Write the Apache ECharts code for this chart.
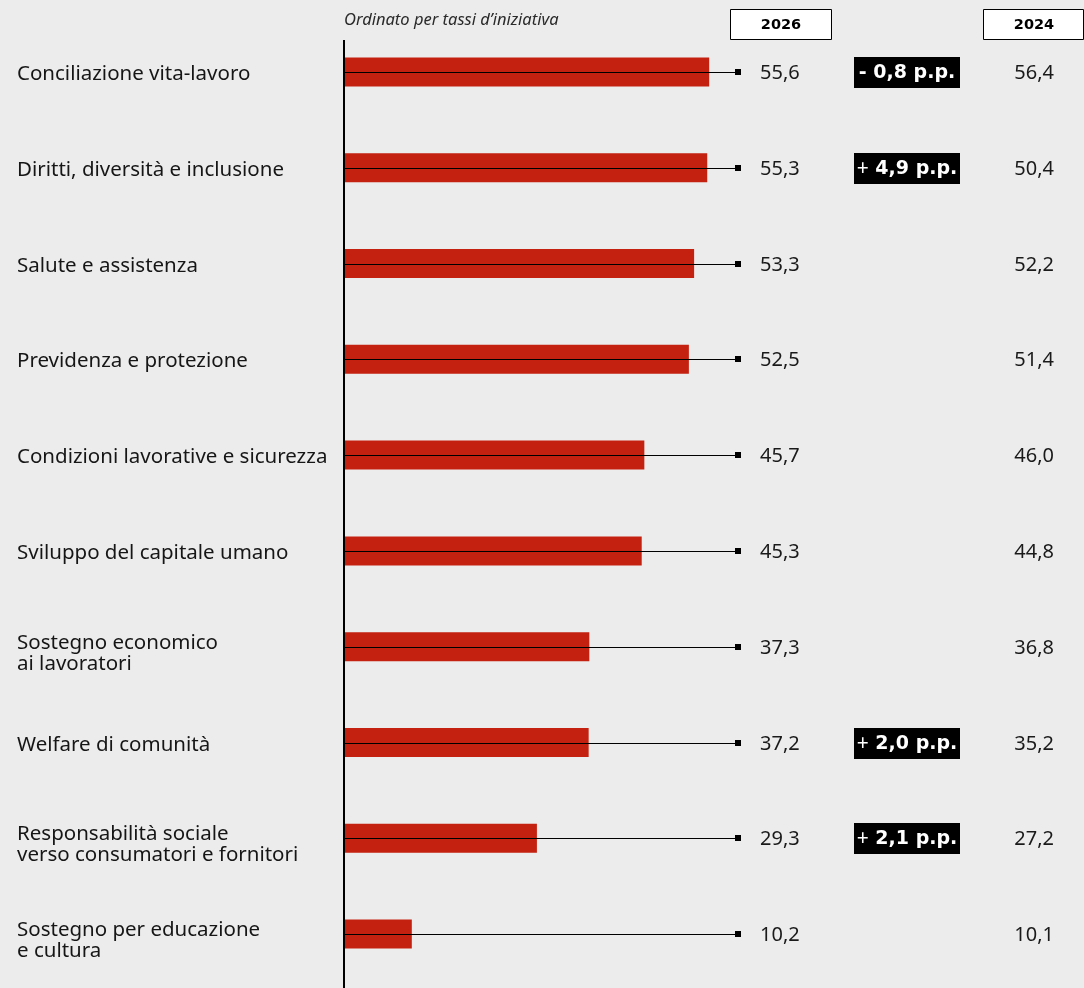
<!DOCTYPE html>
<html lang="it">
<head>
<meta charset="utf-8">
<title>Welfare aziendale – aree d'intervento</title>
<script src="https://cdn.jsdelivr.net/npm/echarts@6/dist/echarts.min.js"></script>
<style>
  html, body { margin: 0; padding: 0; background: #ececec; }
  #chart { width: 1084px; height: 988px; }
</style>
</head>
<body>
<div id="chart"></div>
<script>
// Aree di welfare, ordinate per tasso d'iniziativa
const categories = [
  'Conciliazione vita-lavoro',
  'Diritti, diversità e inclusione',
  'Salute e assistenza',
  'Previdenza e protezione',
  'Condizioni lavorative e sicurezza',
  'Sviluppo del capitale umano',
  'Sostegno economico\nai lavoratori',
  'Welfare di comunità',
  'Responsabilità sociale\nverso consumatori e fornitori',
  'Sostegno per educazione\ne cultura'
];
// Tassi d'iniziativa 2026 (%)
const values2026 = [55.6, 55.3, 53.3, 52.5, 45.7, 45.3, 37.3, 37.2, 29.3, 10.2];
// Tassi d'iniziativa 2024 (%)
const values2024 = [56.4, 50.4, 52.2, 51.4, 46.0, 44.8, 36.8, 35.2, 27.2, 10.1];
// Variazioni evidenziate (punti percentuali)
const deltas = [-0.8, 4.9, null, null, null, null, null, 2.0, 2.1, null];
// Colonne d'intestazione
const headers = ['2026', '2024'];
// Fine della linea guida sull'asse dei valori
const guideEnd = 60;

const FONT = '"Noto Sans", "Liberation Sans", sans-serif';
const WIDE = '"DejaVu Sans", "Noto Sans", sans-serif';
const fmt = v => v.toFixed(1).replace('.', ',');

const chart = echarts.init(document.getElementById('chart'), null, { renderer: 'canvas' });

chart.setOption({
  backgroundColor: '#ececec',
  animation: false,
  grid: { left: 345, right: 346, top: 24, bottom: 6 },
  xAxis: {
    type: 'value', min: 0, max: guideEnd,
    show: false
  },
  yAxis: {
    type: 'category',
    data: categories,
    inverse: true,
    axisLine: { show: false },
    axisTick: { show: false },
    axisLabel: { show: false }
  },
  series: [
    {
      type: 'bar',
      data: values2026,
      barWidth: 29,
      itemStyle: { color: '#c42110' },
      z: 2
    },
    {
      type: 'custom',
      data: values2026.map((v, i) => [guideEnd, i]),
      z: 3,
      clip: false,
      renderItem(params, api) {
        const i = params.dataIndex;
        const start = api.coord([0, i]);
        const end = api.coord([guideEnd, i]);
        const y = Math.round(end[1]) + 0.5;
        const multiLine = categories[i].indexOf('\n') >= 0;
        const children = [
          {
            // category name, left of the axis
            type: 'text',
            style: {
              text: categories[i], x: start[0] - 328, y: y + (multiLine ? 6 : 2),
              align: 'left', verticalAlign: 'middle',
              font: '20.5px ' + FONT, lineHeight: 21, fill: '#161616'
            }
          },
          {
            type: 'line',
            shape: { x1: start[0], y1: y, x2: end[0], y2: y },
            style: { stroke: '#000', lineWidth: 1 }
          },
          {
            type: 'rect',
            shape: { x: end[0] - 3, y: y - 3.5, width: 6, height: 6 },
            style: { fill: '#000' }
          },
          {
            type: 'text',
            style: {
              text: fmt(values2026[i]), x: end[0] + 22, y: y + 1,
              align: 'left', verticalAlign: 'middle',
              font: '20px ' + FONT, fill: '#1a1a1a'
            }
          },
          {
            type: 'text',
            style: {
              text: fmt(values2024[i]), x: end[0] + 316, y: y + 1,
              align: 'right', verticalAlign: 'middle',
              font: '20px ' + FONT, fill: '#1a1a1a'
            }
          }
        ];
        const d = deltas[i];
        if (d !== null) {
          const sign = d < 0 ? '-' : '+';
          children.push({
            type: 'rect',
            shape: { x: end[0] + 116, y: y - 15.5, width: 106, height: 31 },
            style: { fill: '#000' }
          });
          children.push({
            type: 'text',
            style: {
              text: '{s|' + sign + '}{n| ' + fmt(Math.abs(d)) + ' p.p.}',
              x: end[0] + 169, y: y + 1,
              align: 'center', verticalAlign: 'middle',
              rich: {
                s: d < 0
                  ? { font: 'bold 19px ' + WIDE, fill: '#fff', lineHeight: 24 }
                  : { font: '21px ' + FONT, fill: '#fff', lineHeight: 24 },
                n: { font: 'bold 19px ' + WIDE, fill: '#fff', lineHeight: 24 }
              }
            }
          });
        }
        return { type: 'group', children };
      }
    }
  ],
  graphic: [
    {
      type: 'rect', z: 10,
      shape: { x: 343, y: 40, width: 2, height: 948 },
      style: { fill: '#000' }
    },
    {
      type: 'text', z: 10,
      style: {
        text: 'Ordinato per tassi d\u2019iniziativa', x: 344, y: 20,
        verticalAlign: 'middle',
        font: 'italic 16.5px ' + FONT, fill: '#2a2a2a'
      }
    },
    {
      type: 'rect', z: 10,
      shape: { x: 730.5, y: 9.5, width: 101, height: 30 },
      style: { fill: '#fff', stroke: '#000', lineWidth: 1 }
    },
    {
      type: 'text', z: 11,
      style: {
        text: headers[0], x: 781, y: 25, align: 'center', verticalAlign: 'middle',
        font: 'bold 14.5px ' + WIDE, fill: '#000'
      }
    },
    {
      type: 'rect', z: 10,
      shape: { x: 983.5, y: 9.5, width: 100, height: 30 },
      style: { fill: '#fff', stroke: '#000', lineWidth: 1 }
    },
    {
      type: 'text', z: 11,
      style: {
        text: headers[1], x: 1034, y: 25, align: 'center', verticalAlign: 'middle',
        font: 'bold 14.5px ' + WIDE, fill: '#000'
      }
    }
  ]
});
</script>
</body>
</html>
